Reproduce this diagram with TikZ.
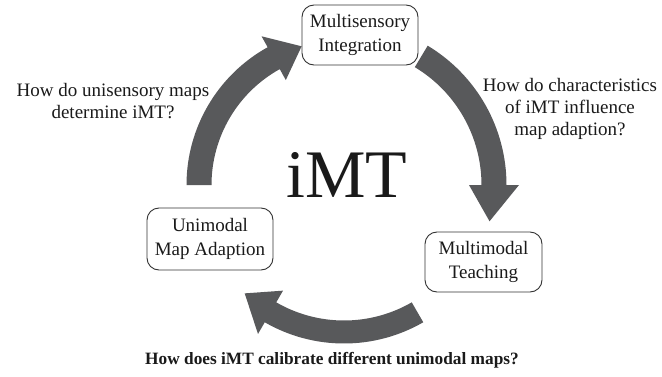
\documentclass[tikz,border=0pt]{standalone}
\usepackage{fontspec}
\setmainfont{Liberation Serif}
\definecolor{arrowgray}{HTML}{58595B}
\definecolor{boxline}{HTML}{333333}
\definecolor{ink}{HTML}{1A1A1A}
% thick circular arrow: start angle, head-base angle, tip angle, radius, half width
\newcommand\cyclearrow[5]{%
  \fill[arrowgray] (#1:#4+#5) arc[start angle=#1, end angle=#2, radius=#4+#5]
    -- (#2:#4+25) -- (#3:#4) -- (#2:#4-25)
    -- (#2:#4-#5) arc[start angle=#2, end angle=#1, radius=#4-#5] -- cycle;}
\begin{document}
\begin{tikzpicture}[x=1pt,y=1pt,
  stage/.style={draw=boxline, line width=0.9pt, rounded corners=12pt, align=center,
    text=ink, inner sep=0pt, font=\fontsize{19}{24}\selectfont},
  question/.style={align=center, text=ink, inner sep=0pt, font=\fontsize{19}{22}\selectfont}]
\useasboundingbox (0,0) rectangle (662,376);
\fill[white] (0,0) rectangle (662,376);

% circular flow of arrows
\begin{scope}[shift={(344,191)}]
  \cyclearrow{180}{119}{107}{145}{12.5}
  \cyclearrow{59}{0}{-14}{150}{12.5}
  \cyclearrow{-60}{-120}{-132.5}{147}{11.5}
\end{scope}

% stages
\node[stage, minimum width=116, minimum height=60] (integ) at (360,341) {Multisensory\\Integration};
\node[stage, minimum width=117, minimum height=60] (teach) at (483.5,114) {Multimodal\\Teaching};
\node[stage, minimum width=126, minimum height=62] (adapt) at (210,137) {Unimodal\\Map Adaption};

% centre label
\node[text=ink, inner sep=0pt, anchor=base, font=\fontsize{68}{68}\selectfont] (imt) at (347,179) {iMT};

% questions
\node[question] (q1) at (113,275) {How do unisensory maps\\determine iMT?};
\node[question] (q2) at (570,267) {How do characteristics\\of iMT influence\\map adaption?};
\node[question, anchor=base, font=\bfseries\fontsize{17.3}{22}\selectfont] (q3) at (332,12) {How does iMT calibrate different unimodal maps?};
\end{tikzpicture}
\end{document}
